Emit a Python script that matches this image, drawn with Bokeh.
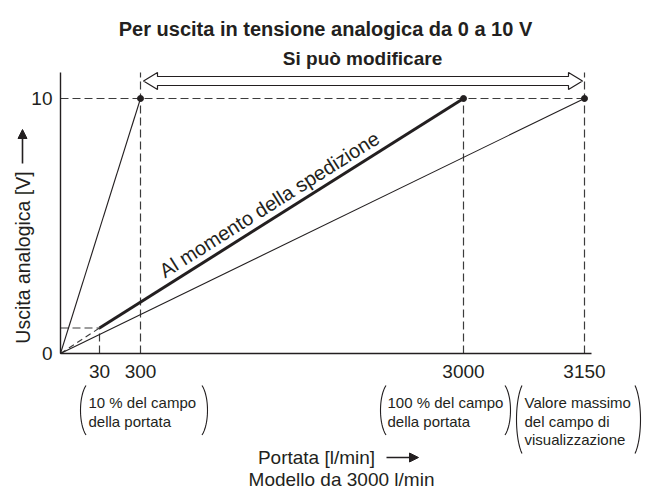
import numpy as np
from bokeh.plotting import figure
from bokeh.models import Range1d, FixedTicker, Arrow, NormalHead
from bokeh.core.properties import value
from bokeh.embed import file_html
from bokeh.resources import INLINE

# ---------------- data ----------------
title_text = "Per uscita in tensione analogica da 0 a 10 V"
range_text = "Si può modificare"
ylabel_text = "Uscita analogica [V]"
xlabel_text = "Portata [l/min]"
model_text = "Modello da 3000 l/min"
shipping_text = "Al momento della spedizione"

flow_ticks = [30, 300, 3000, 3150]
flow_tick_labels = ["30", "300", "3000", "3150"]
volt_ticks = [0, 10]
volt_tick_labels = ["0", "10"]

# schematic (not to scale) flow axis: flow value -> axis position
flow_knots = [0, 30, 300, 3000, 3150]
axis_knots = [0, 39, 80, 403, 524]

steep_flow = [0, 300]
steep_volt = [0, 10]
shallow_flow = [0, 3150]
shallow_volt = [0, 10]
shipping_flow = [30, 3000]
shipping_volt = [1, 10]
lowcut_flow = [0, 30]
lowcut_volt = [0, 1]
marker_flow = [300, 3000, 3150]
marker_volt = [10, 10, 10]
adjust_from, adjust_to = 300, 3150

block_texts = [
    ["10 % del campo", "della portata"],
    ["100 % del campo", "della portata"],
    ["Valore massimo", "del campo di", "visualizzazione"],
]

# ---------------- helpers ----------------
def xp(v):
    return np.interp(v, flow_knots, axis_knots)

INK = "#231f20"
DASH = "#3c3c3c"
FONT = "Liberation Sans"

W, H = 645, 491
X0, Y0 = 60, 353          # canvas px of the axes origin
PXY = 25.5                # px per volt

def sx(px):               # canvas px -> data x
    return px - X0

def sy(py):               # canvas px -> data y
    return (Y0 - py) / PXY

YTOP = sy(72)

p = figure(width=W, height=H, output_backend="svg", toolbar_location=None,
           x_range=Range1d(sx(0), sx(W)), y_range=Range1d(sy(H), sy(0)),
           min_border=0, min_border_left=0, min_border_right=0,
           min_border_top=0, min_border_bottom=0)
p.outline_line_color = None
p.xgrid.visible = False
p.ygrid.visible = False
p.background_fill_color = "white"
p.border_fill_color = "white"

# axes (fixed at the origin, limited extent)
xt = [float(xp(v)) for v in flow_ticks]
p.xaxis.ticker = FixedTicker(ticks=xt)
p.xaxis.major_label_overrides = {t: l for t, l in zip(xt, flow_tick_labels)}
p.xaxis.fixed_location = 0
p.xaxis.bounds = (0, sx(591))
p.yaxis.ticker = FixedTicker(ticks=volt_ticks)
p.yaxis.major_label_overrides = {t: l for t, l in zip(volt_ticks, volt_tick_labels)}
p.yaxis.fixed_location = 0
p.yaxis.bounds = (0, YTOP)
for ax in (p.xaxis, p.yaxis):
    ax.axis_line_color = INK
    ax.axis_line_width = 1.4
    ax.major_tick_line_color = None
    ax.minor_tick_line_color = None
    ax.major_tick_out = 0
    ax.major_tick_in = 0
    ax.minor_tick_out = 0
    ax.major_label_text_font = FONT
    ax.major_label_text_font_size = "19px"
    ax.major_label_text_color = INK
p.xaxis.major_label_standoff = 11
p.yaxis.major_label_standoff = 8

# dashed guide lines
gx0 = [0, 0, xp(30), xp(300), xp(3000), xp(3150)]
gy0 = [10, 1, 0, 0, 0, 0]
gx1 = [xp(3150), xp(30), xp(30), xp(300), xp(3000), xp(3150)]
gy1 = [10, 1, 1, YTOP, 10, YTOP]
p.segment(gx0, gy0, gx1, gy1, line_color=DASH, line_width=1.2, line_dash="8 4")
p.line(xp(np.array(lowcut_flow)), lowcut_volt, line_color=DASH, line_width=1.1, line_dash="6 4")

# characteristic lines
p.line(xp(np.array(steep_flow)), steep_volt, line_color=INK, line_width=1.1)
p.line(xp(np.array(shallow_flow)), shallow_volt, line_color=INK, line_width=1.1)
p.line(xp(np.array(shipping_flow)), shipping_volt, line_color=INK, line_width=3)
p.scatter(xp(np.array(marker_flow)), marker_volt, size=6, color=INK)

# hollow double arrow for the adjustable range
xa, xb = xp(adjust_from) + 3, xp(adjust_to) - 2
yc = sy(80.5)
hw, hh, hl = 4.5 / PXY, 8.5 / PXY, 14
ax_ = [xa, xa + hl, xa + hl, xb - hl, xb - hl, xb, xb - hl, xb - hl, xa + hl, xa + hl]
ay_ = [yc, yc + hh, yc + hw, yc + hw, yc + hh, yc, yc - hh, yc - hw, yc - hw, yc - hh]
p.patch(ax_, ay_, fill_color="white", line_color=INK, line_width=1.2)

# texts
def lab(text, x, y, size="19px", style="normal", align="center", baseline="middle", angle=0):
    p.text(x=[x], y=[y], text=[text], text_font=value(FONT), text_font_size=value(size),
           text_font_style=style, text_color=INK, text_align=align,
           text_baseline=baseline, angle=angle)

lab(title_text, sx(325), sy(28), size="20px", style="bold")
lab(range_text, sx(362), sy(58), size="19px", style="bold")
lab(ylabel_text, sx(22), sy(257), size="19.5px", angle=np.pi / 2)
lab(xlabel_text, sx(316), sy(457))
lab(model_text, sx(341), sy(479))

head = dict(size=9, fill_color=INK, line_color=INK)
p.add_layout(Arrow(x_start=sx(22), y_start=sy(163), x_end=sx(22), y_end=sy(129),
                   line_color=INK, line_width=1.6, end=NormalHead(**head)))
p.add_layout(Arrow(x_start=sx(386), y_start=sy(457), x_end=sx(418), y_end=sy(457),
                   line_color=INK, line_width=1.6, end=NormalHead(**head)))

# label along the shipping line
dx_px = xp(shipping_flow[1]) - xp(shipping_flow[0])
dy_px = (shipping_volt[1] - shipping_volt[0]) * PXY
theta = np.arctan2(dy_px, dx_px)
t = 0.19
off = 14
ax0 = xp(shipping_flow[0]) + t * dx_px - off * np.sin(theta)
ay0 = shipping_volt[0] + t * (shipping_volt[1] - shipping_volt[0]) + off * np.cos(theta) / PXY
lab(shipping_text, ax0, ay0, size="20px", align="left", baseline="alphabetic", angle=theta)

# bracketed notes under the axis
block_left = [88, 387, 524]
paren_l = [80, 380, 516]
paren_r = [207, 510, 640]
for lines, tx, pl, pr in zip(block_texts, block_left, paren_l, paren_r):
    top, step = 402, 18.5
    for i, s in enumerate(lines):
        lab(s, sx(tx), sy(top + i * step), size="15px", align="left")
    y_top = 385
    y_bot = top + (len(lines) - 1) * step + 14
    ss = np.linspace(-1, 1, 25)
    ys = (y_top + y_bot) / 2 + ss * (y_bot - y_top) / 2
    for xl, sgn in ((pl, 1), (pr, -1)):
        xs = xl + sgn * 5.5 * (1 - np.sqrt(1 - 0.75 * ss ** 2)) / (1 - np.sqrt(0.25))
        p.line([sx(v) for v in xs], [sy(v) for v in ys], line_color=INK, line_width=1.1)

open("out.html", "w").write(file_html(p, INLINE))
